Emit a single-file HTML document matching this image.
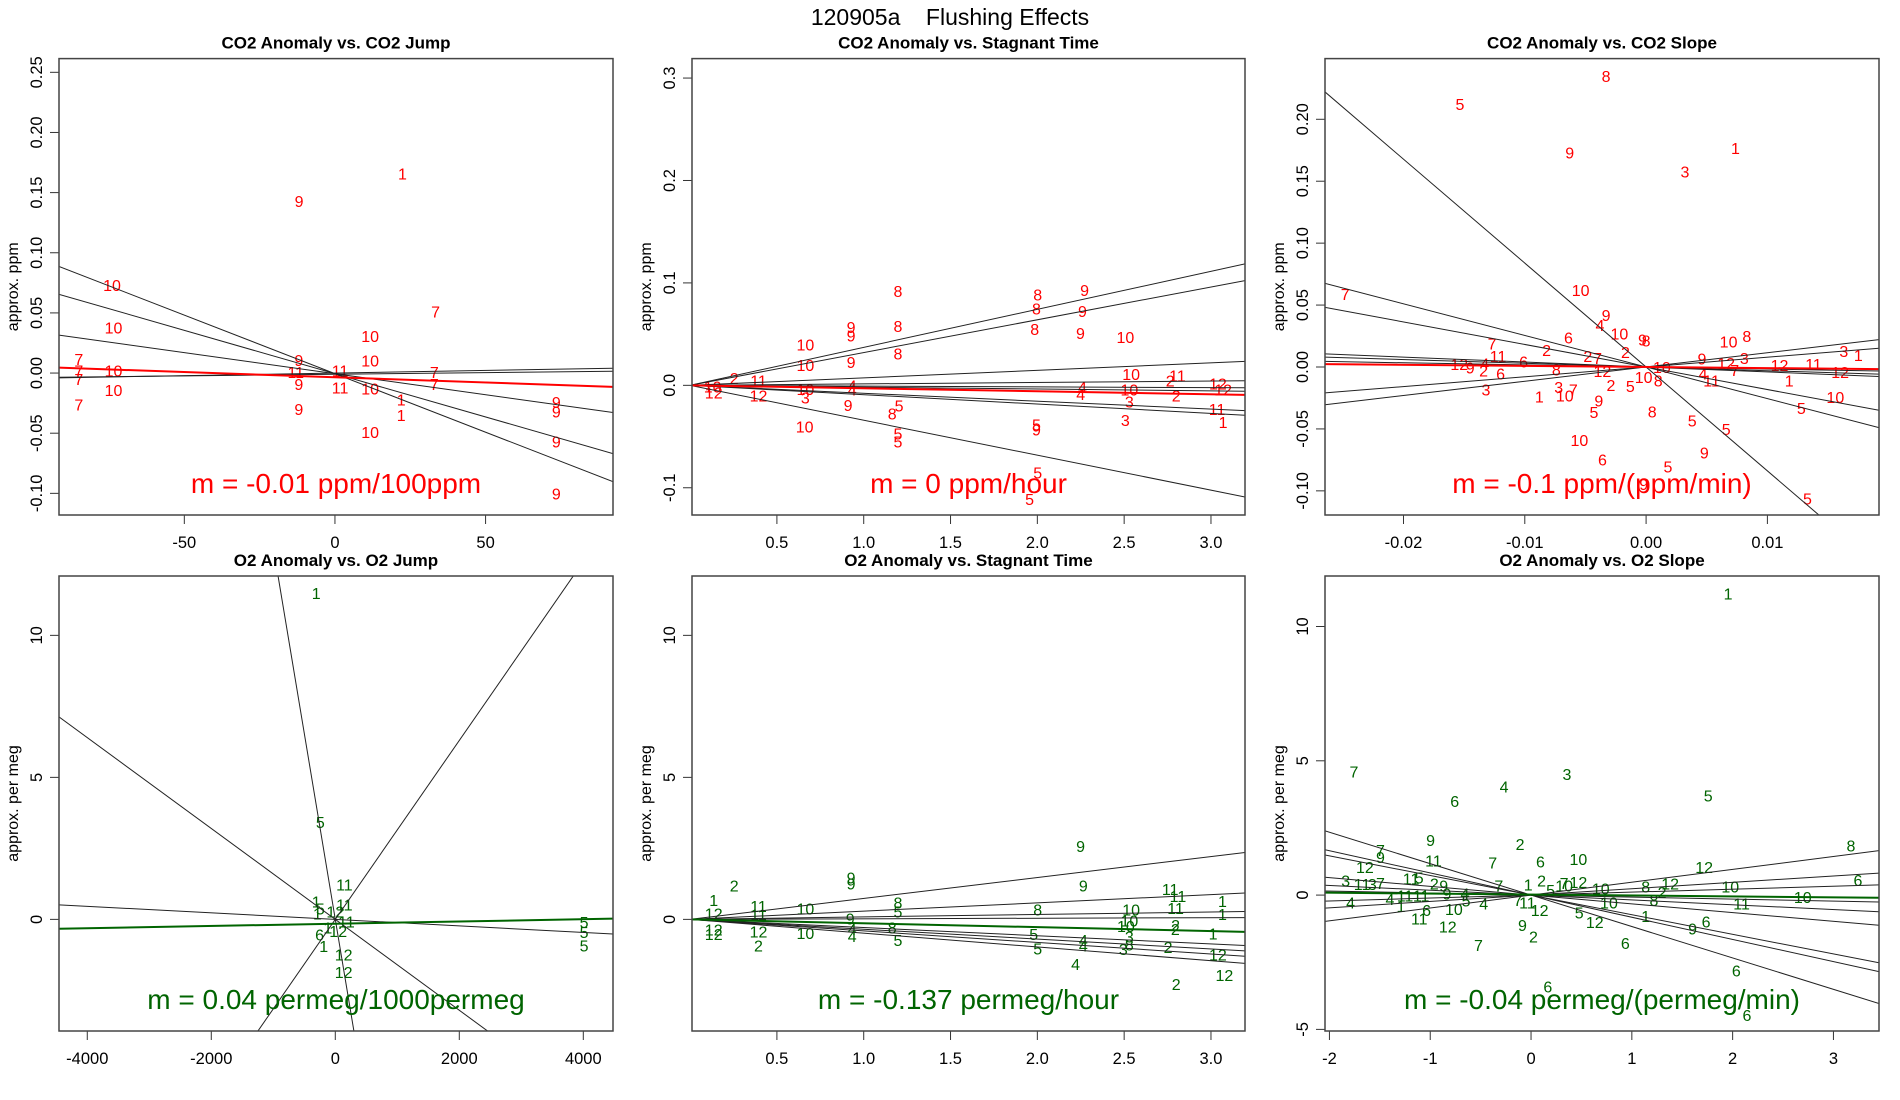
<!DOCTYPE html>
<html><head><meta charset="utf-8"><title>120905a Flushing Effects</title>
<style>
html,body{margin:0;padding:0;background:#fff;overflow:hidden;width:1900px;height:1100px;}
svg{display:block;font-family:"Liberation Sans",sans-serif;}
</style></head>
<body>
<svg id="chart" width="1900" height="1100" viewBox="0 0 1900 1100">
<text x="950" y="25" text-anchor="middle" font-size="23" fill="#000">120905a&#160;&#160;&#160;&#160;Flushing Effects</text>
</svg>
<script>
// ---------- Panel 1: CO2 Anomaly vs CO2 Jump ----------
const p1Labels = ["1","9","10","7","10","10","7","9","10","7","10","11","7","7","9","7","11","10","10","1","9","7","9","9","1","10","9","9","11"];
const p1X = [22.4,-11.9,-74,33.4,-73.5,11.7,-85,-12,11.7,-85,-73.5,1.7,33,-85,-12,33,1.7,11.7,-73.5,22,73.5,-85,-12,73.5,22,11.7,73.5,73.5,-13];
const p1Y = [0.166,0.143,0.073,0.051,0.038,0.031,0.0117,0.011,0.0105,0.002,0.002,0.002,0.001,-0.005,-0.009,-0.009,-0.012,-0.013,-0.014,-0.022,-0.024,-0.026,-0.030,-0.032,-0.035,-0.049,-0.057,-0.1,0.001];
const p1Slopes = [-0.000973,-0.00072,-0.00035,0.0000435,0.000027];
const p1Intercepts = [-0.0005,-0.0005,-0.0005,0.0,-0.0010];
const p1FitSlope = [-0.000087];
const p1FitIntercept = [-0.0035];
const p1XTicks = [-50,0,50];
const p1YTicks = [-0.10,-0.05,0.00,0.05,0.10,0.15,0.20,0.25];
const p1YTickLabels = ["-0.10","-0.05","0.00","0.05","0.10","0.15","0.20","0.25"];

// ---------- Panel 2: CO2 Anomaly vs Stagnant Time ----------
const p2Labels = ["8","8","9","8","9","9","9","8","8","9","10","10","10","8","9","2","10","11","2","12","12","12","10","11","12","10","3","4","4","9","5","8","5","5","10","4","4","10","3","3","5","9","2","11","1","5","5"];
const p2X = [1.197,2.002,2.272,1.995,2.26,0.927,0.927,1.197,1.985,2.248,2.507,0.664,0.664,1.197,0.927,0.254,2.54,2.807,2.765,3.04,3.07,0.136,0.13,0.394,0.394,0.664,0.664,0.934,0.934,0.91,1.204,1.164,1.197,1.197,0.66,2.26,2.25,2.53,2.53,2.507,1.995,1.995,2.80,3.035,3.07,2.002,1.955];
const p2Y = [0.092,0.0887,0.093,0.075,0.0725,0.057,0.0485,0.058,0.055,0.051,0.047,0.040,0.020,0.031,0.023,0.007,0.011,0.0096,0.0045,0.002,-0.004,-0.007,-0.001,0.0045,-0.010,-0.0034,-0.0117,0,-0.004,-0.019,-0.0196,-0.0275,-0.047,-0.055,-0.040,-0.0017,-0.0086,-0.004,-0.016,-0.034,-0.038,-0.043,-0.010,-0.023,-0.036,-0.085,-0.111];
const p2Slopes = [0.0371,0.0320,0.00731,0.0014,-0.00075,-0.0018,-0.00774,-0.00914,-0.0341];
const p2Intercepts = [0,0,0,0,0,0,0,0,0];
const p2FitSlope = [-0.0029];
const p2FitIntercept = [0];
const p2XTicks = [0.5,1.0,1.5,2.0,2.5,3.0];
const p2XTickLabels = ["0.5","1.0","1.5","2.0","2.5","3.0"];
const p2YTicks = [-0.1,0.0,0.1,0.2,0.3];
const p2YTickLabels = ["-0.1","0.0","0.1","0.2","0.3"];

// ---------- Panel 3: CO2 Anomaly vs CO2 Slope ----------
const p3Labels = ["8","5","1","9","3","10","7","9","4","10","6","9","8","10","8","7","2","2","11","3","9","3","1","12","9","4","6","12","11","2","6","2","7","12","10","12","7","4","11","12","1","10","5","3","1","3","10","7","2","5","10","8","9","5","8","5","5","10","9","6","5","9","5","8"];
const p3X = [-0.0033,-0.01535,0.00737,-0.0063,0.0032,-0.0054,-0.0248,-0.0033,-0.0038,-0.0022,-0.0064,-0.0003,0,0.0068,0.0083,-0.0127,-0.0082,-0.0017,-0.0122,0.0081,0.0046,0.0163,0.0175,-0.0154,-0.0145,-0.0133,-0.0101,0.011,0.0138,-0.0134,-0.012,-0.0048,-0.004,-0.0036,0.0013,0.0066,0.0073,0.0047,0.0054,0.016,0.0118,0.0156,0.0128,-0.0132,-0.0088,-0.0072,-0.0067,-0.006,-0.0029,-0.0013,-0.0002,0.001,-0.0039,-0.0043,0.0005,0.0038,0.0066,-0.0055,0.0048,-0.0036,0.0018,-0.0002,0.0133,-0.0074];
const p3Y = [0.235,0.2125,0.177,0.173,0.158,0.0623,0.059,0.042,0.034,0.027,0.024,0.022,0.0215,0.0207,0.025,0.019,0.0139,0.012,0.0088,0.0074,0.0068,0.013,0.0096,0.0023,-0.0006,0.003,0.0045,0.0017,0.0025,-0.003,-0.0054,0.0088,0.0074,-0.0031,0,0.0031,-0.0025,-0.0054,-0.011,-0.004,-0.011,-0.0244,-0.033,-0.018,-0.024,-0.016,-0.023,-0.018,-0.0144,-0.0153,-0.008,-0.011,-0.027,-0.0365,-0.036,-0.043,-0.050,-0.059,-0.069,-0.0748,-0.0805,-0.0946,-0.106,-0.002];
const p3Slopes = [-8.39,-2.55,-1.82,-0.40,-0.30,-0.17,0.79,1.15];
const p3Intercepts = [0,0,0,0,0,0,0,0];
const p3FitSlope = [-0.088];
const p3FitIntercept = [0];
const p3XTicks = [-0.02,-0.01,0.00,0.01];
const p3XTickLabels = ["-0.02","-0.01","0.00","0.01"];
const p3YTicks = [-0.10,-0.05,0.00,0.05,0.10,0.15,0.20];
const p3YTickLabels = ["-0.10","-0.05","0.00","0.05","0.10","0.15","0.20"];

// ---------- Panel 4: O2 Anomaly vs O2 Jump ----------
const p4Labels = ["1","5","11","1","11","5","12","1","11","6","1","12","1","12","12","5","5","5"];
const p4X = [-308,-241,147,-308,147,-241,0,-288,180,-254,-120,47,-187,134,134,4013,4013,4013];
const p4Y = [11.5,3.42,1.22,0.63,0.53,0.38,0.28,0.21,-0.08,-0.54,-0.29,-0.41,-0.94,-1.23,-1.86,-0.1,-0.45,-0.92];
const p4Slopes = [-0.0131,0.00315,-0.0016,-0.000115];
const p4Intercepts = [0,0,0,0];
const p4FitSlope = [0.0000397];
const p4FitIntercept = [-0.153];
const p4XTicks = [-4000,-2000,0,2000,4000];
const p4YTicks = [0,5,10];

// ---------- Panel 5: O2 Anomaly vs Stagnant Time ----------
const p5Labels = ["9","2","9","9","9","11","11","1","1","12","11","11","10","11","10","8","5","8","1","10","9","10","2","2","12","12","12","4","4","10","8","5","5","1","2","5","4","4","3","3","8","2","12","12","4","2"];
const p5X = [2.249,0.254,0.927,0.927,2.265,2.765,2.81,3.066,0.136,0.136,0.394,0.394,0.664,2.796,2.54,1.197,1.197,2.002,3.066,2.53,0.922,2.51,2.796,2.795,0.136,0.136,0.394,0.934,0.934,0.664,1.164,1.197,1.979,3.012,0.394,2.002,2.265,2.265,2.53,2.495,2.53,2.753,3.04,3.077,2.22,2.80];
const p5Y = [2.58,1.20,1.47,1.26,1.2,1.07,0.82,0.65,0.68,0.21,0.47,0.18,0.38,0.40,0.34,0.59,0.28,0.34,0.19,-0.04,0.025,-0.23,-0.2,-0.33,-0.35,-0.52,-0.42,-0.33,-0.58,-0.48,-0.29,-0.73,-0.52,-0.5,-0.92,-1.02,-0.73,-0.92,-0.6,-1.05,-0.88,-0.98,-1.23,-1.96,-1.57,-2.28];
const p5Slopes = [0.737,0.291,0.0867,0.02,-0.288,-0.347,-0.406,-0.485];
const p5Intercepts = [0,0,0,0,0,0,0,0];
const p5FitSlope = [-0.137];
const p5FitIntercept = [0];

// ---------- Panel 6: O2 Anomaly vs O2 Slope ----------
const p6Labels = ["1","7","3","4","5","6","9","2","8","7","9","10","11","6","7","12","12","11","5","3","11","3","7","6","2","7","12","1","12","8","10","7","10","2","9","5","10","2","9","4","11","11","4","10","8","5","4","4","7","11","10","11","6","10","1","12","5","1","11","12","12","9","9","6","2","7","6","6","6","6"];
const p6X = [1.955,-1.757,0.356,-0.267,1.757,-0.757,-0.996,-0.109,3.174,-1.494,-1.494,0.47,-0.968,0.093,-0.38,-1.648,1.717,-1.19,-1.11,-1.838,-1.676,-1.575,-1.494,3.243,0.105,0.328,0.47,-0.028,1.38,1.138,1.976,-0.32,0.328,-0.96,-0.866,0.194,0.692,1.3,-0.834,-0.656,-1.25,-1.09,-1.4,2.696,1.219,-0.644,-0.47,-1.79,-0.13,-0.036,0.773,2.089,-1.036,-0.765,-1.29,0.085,0.478,1.138,-1.109,-0.826,0.632,-0.085,1.603,1.737,0.024,-0.522,0.935,2.036,0.166,2.142];
const p6Y = [11.22,4.6,4.51,4.04,3.71,3.51,2.05,1.91,1.85,1.68,1.42,1.34,1.28,1.25,1.21,1.05,1.05,0.61,0.65,0.55,0.41,0.41,0.45,0.56,0.55,0.45,0.48,0.39,0.43,0.32,0.32,0.35,0.35,0.43,0.35,0.19,0.25,0.12,0.05,0.05,-0.01,-0.01,-0.15,-0.08,-0.19,-0.21,-0.32,-0.28,-0.19,-0.28,-0.28,-0.31,-0.55,-0.52,-0.41,-0.55,-0.65,-0.78,-0.88,-1.17,-1.01,-1.12,-1.25,-0.98,-1.54,-1.85,-1.78,-2.81,-3.40,-4.47];
const p6Slopes = [-1.17,-0.825,-0.73,-0.325,-0.18,0.11,0.237,0.479,-0.075];
const p6Intercepts = [0,0,0,0,0,0,0,0,0];
const p6FitSlope = [-0.035];
const p6FitIntercept = [0.02];
const p6XTicks = [-2,-1,0,1,2,3];
const p6YTicks = [-5,0,5,10];

// ---------- layout (not data) ----------
const SVGNS = "http://www.w3.org/2000/svg";
const svg = document.getElementById("chart");
const RED = "#ff0000", GREEN = "#006400";

function mk(tag, attrs, parent) {
  const e = document.createElementNS(SVGNS, tag);
  for (const k in attrs) e.setAttribute(k, attrs[k]);
  (parent || svg).appendChild(e);
  return e;
}

function drawPanel(cfg) {
  const g = mk("g", {});
  
  
  const L = cfg.box[0], T = cfg.box[1], W = cfg.box[2], H = cfg.box[3];
  const sx = v => L + (v - cfg.xr[0]) / (cfg.xr[1] - cfg.xr[0]) * W;
  const sy = v => T + H - (v - cfg.yr[0]) / (cfg.yr[1] - cfg.yr[0]) * H;
  const cid = "clip-" + cfg.name;
  const cp = mk("clipPath", {id: cid}, g);
  mk("rect", {x: L, y: T, width: W, height: H}, cp);

  const t = mk("text", {x: L + W / 2, y: T - 10, "text-anchor": "middle", "font-size": 17, "font-weight": "bold", fill: "#000"}, g);
  t.textContent = cfg.title;
  
  

  const yl = mk("text", {x: 0, y: 0, "text-anchor": "middle", "font-size": 16, fill: "#000", transform: "translate(" + (L - 41) + "," + (T + H / 2) + ") rotate(-90)"}, g);
  yl.textContent = cfg.ylab;
  
  

  cfg.xt.forEach((v, i) => {
    const x = sx(v);
    const tk = mk("line", {x1: x, x2: x, y1: T + H, y2: T + H + 9, stroke: "#333", "stroke-width": 1}, g);
    
    
    const tl = mk("text", {x: x, y: T + H + 33, "text-anchor": "middle", "font-size": 16.5, fill: "#000"}, g);
    tl.textContent = cfg.xtl[i];
    
    
  });
  cfg.yt.forEach((v, i) => {
    const y = sy(v);
    const tk = mk("line", {x1: L - 9, x2: L, y1: y, y2: y, stroke: "#333", "stroke-width": 1}, g);
    
    
    const tl = mk("text", {x: 0, y: 0, "text-anchor": "middle", "font-size": 16.5, fill: "#000", transform: "translate(" + (L - 17) + "," + y + ") rotate(-90)"}, g);
    tl.textContent = cfg.ytl[i];
    
    
  });

  const inner = mk("g", {"clip-path": "url(#" + cid + ")"}, g);
  cfg.labels.forEach((lab, i) => {
    const p = mk("text", {x: sx(cfg.xs[i]), y: sy(cfg.ys[i]) + 6, "text-anchor": "middle", "font-size": 16, fill: cfg.color}, inner);
    p.textContent = lab;
    
    
  });
  const x0 = cfg.xr[0], x1 = cfg.xr[1];
  cfg.slopes.forEach((m, i) => {
    const b = cfg.ints[i];
    const ln = mk("line", {x1: sx(x0), y1: sy(b + m * x0), x2: sx(x1), y2: sy(b + m * x1), stroke: "#222", "stroke-width": 1}, inner);
    
    
  });
  cfg.fitM.forEach((m, i) => {
    const b = cfg.fitB[i];
    const ln = mk("line", {x1: sx(x0), y1: sy(b + m * x0), x2: sx(x1), y2: sy(b + m * x1), stroke: cfg.color, "stroke-width": 2}, inner);
    
    
  });
  const ann = mk("text", {x: L + W / 2, y: T + H - 22, "text-anchor": "middle", "font-size": 28, fill: cfg.color}, g);
  ann.textContent = cfg.ann;
  
  
  const fr = mk("rect", {x: L, y: T, width: W, height: H, fill: "none", stroke: "#444", "stroke-width": 1.5}, g);
  
  
}

const TOP = [58.6, 456.4], BOT = [576, 455];
drawPanel({name: "co2-vs-co2-jump", title: "CO2 Anomaly vs. CO2 Jump", ylab: "approx. ppm", color: RED,
  box: [59, TOP[0], 554, TOP[1]], xr: [-91.6, 92.3], yr: [-0.118, 0.2614],
  xt: p1XTicks, xtl: p1XTicks.map(String), yt: p1YTicks, ytl: p1YTickLabels,
  labels: p1Labels, xs: p1X, ys: p1Y, slopes: p1Slopes, ints: p1Intercepts, fitM: p1FitSlope, fitB: p1FitIntercept,
  ann: "m = -0.01 ppm/100ppm"});
drawPanel({name: "co2-vs-stagnant-time", title: "CO2 Anomaly vs. Stagnant Time", ylab: "approx. ppm", color: RED,
  box: [692, TOP[0], 553, TOP[1]], xr: [0.011, 3.196], yr: [-0.1266, 0.319],
  xt: p2XTicks, xtl: p2XTickLabels, yt: p2YTicks, ytl: p2YTickLabels,
  labels: p2Labels, xs: p2X, ys: p2Y, slopes: p2Slopes, ints: p2Intercepts, fitM: p2FitSlope, fitB: p2FitIntercept,
  ann: "m = 0 ppm/hour"});
drawPanel({name: "co2-vs-co2-slope", title: "CO2 Anomaly vs. CO2 Slope", ylab: "approx. ppm", color: RED,
  box: [1325, TOP[0], 554, TOP[1]], xr: [-0.02647, 0.0192], yr: [-0.1195, 0.249],
  xt: p3XTicks, xtl: p3XTickLabels, yt: p3YTicks, ytl: p3YTickLabels,
  labels: p3Labels, xs: p3X, ys: p3Y, slopes: p3Slopes, ints: p3Intercepts, fitM: p3FitSlope, fitB: p3FitIntercept,
  ann: "m = -0.1 ppm/(ppm/min)"});
drawPanel({name: "o2-vs-o2-jump", title: "O2 Anomaly vs. O2 Jump", ylab: "approx. per meg", color: GREEN,
  box: [59, BOT[0], 554, BOT[1]], xr: [-4456, 4479], yr: [-3.93, 12.09],
  xt: p4XTicks, xtl: p4XTicks.map(String), yt: p4YTicks, ytl: p4YTicks.map(String),
  labels: p4Labels, xs: p4X, ys: p4Y, slopes: p4Slopes, ints: p4Intercepts, fitM: p4FitSlope, fitB: p4FitIntercept,
  ann: "m = 0.04 permeg/1000permeg"});
drawPanel({name: "o2-vs-stagnant-time", title: "O2 Anomaly vs. Stagnant Time", ylab: "approx. per meg", color: GREEN,
  box: [692, BOT[0], 553, BOT[1]], xr: [0.011, 3.196], yr: [-3.93, 12.09],
  xt: p2XTicks, xtl: p2XTickLabels, yt: p4YTicks, ytl: p4YTicks.map(String),
  labels: p5Labels, xs: p5X, ys: p5Y, slopes: p5Slopes, ints: p5Intercepts, fitM: p5FitSlope, fitB: p5FitIntercept,
  ann: "m = -0.137 permeg/hour"});
drawPanel({name: "o2-vs-o2-slope", title: "O2 Anomaly vs. O2 Slope", ylab: "approx. per meg", color: GREEN,
  box: [1325, BOT[0], 554, BOT[1]], xr: [-2.044, 3.452], yr: [-5.06, 11.88],
  xt: p6XTicks, xtl: p6XTicks.map(String), yt: p6YTicks, ytl: p6YTicks.map(String),
  labels: p6Labels, xs: p6X, ys: p6Y, slopes: p6Slopes, ints: p6Intercepts, fitM: p6FitSlope, fitB: p6FitIntercept,
  ann: "m = -0.04 permeg/(permeg/min)"});
</script>
</body></html>
